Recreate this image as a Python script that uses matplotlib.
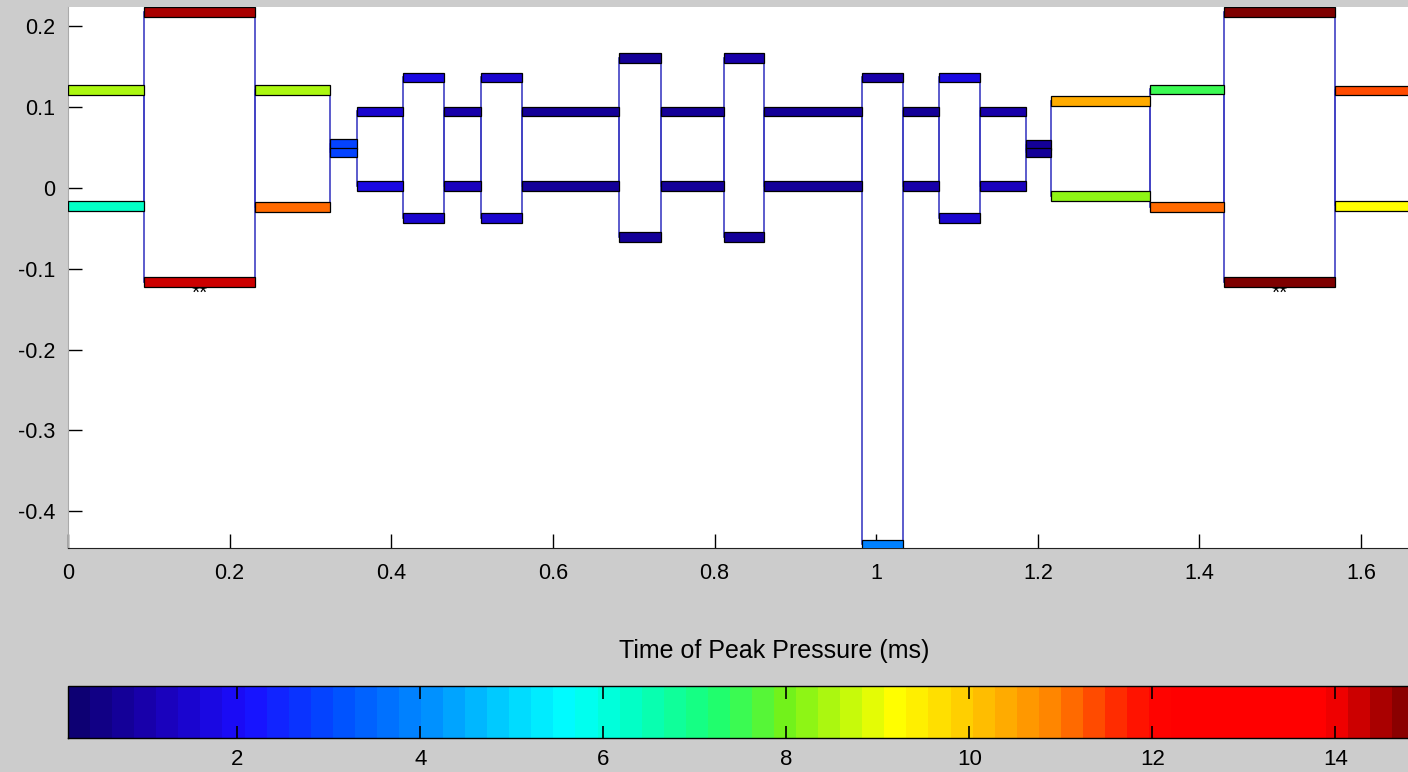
import numpy as np
import matplotlib.pyplot as plt
from matplotlib.colors import LinearSegmentedColormap, Normalize
from matplotlib.patches import Rectangle
from matplotlib.cm import ScalarMappable

plt.rcParams['font.family'] = ['Liberation Sans', 'DejaVu Sans']
plt.rcParams['axes.unicode_minus'] = False

# segment boundaries along the time axis (ms)
time_edges = [0.0, 0.0946, 0.2319, 0.3247, 0.3581, 0.4150, 0.4657, 0.5114,
              0.5621, 0.6821, 0.7341, 0.8120, 0.8615, 0.9827, 1.0334, 1.0779,
              1.1286, 1.1855, 1.2164, 1.3389, 1.4304, 1.5677, 1.662]
# upper and lower level of each segment
top_y = [0.1213, 0.2178, 0.1213, 0.0545, 0.0947, 0.1368, 0.0947, 0.1368,
         0.0947, 0.1609, 0.0947, 0.1609, 0.0947, 0.1368, 0.0947, 0.1368,
         0.0947, 0.0532, 0.1077, 0.1219, 0.2178, 0.1207]
bot_y = [-0.0223, -0.1163, -0.0235, 0.0439, 0.0025, -0.0371, 0.0025, -0.0371,
         0.0025, -0.0606, 0.0025, -0.0606, 0.0025, -0.4410, 0.0025, -0.0371,
         0.0025, 0.0439, -0.0099, -0.0235, -0.1163, -0.0223]
# time of peak pressure (ms) on the upper and lower edges
top_val = [8.5, 14.4, 8.5, 2.9, 1.4, 1.6, 1.1, 1.5, 0.7, 0.8, 0.7, 1.0,
           0.7, 0.9, 0.8, 1.6, 1.0, 0.7, 10.3, 7.5, 14.9, 11.4]
bot_val = [6.4, 14.2, 11.0, 2.9, 1.8, 1.5, 1.3, 1.5, 0.7, 0.8, 0.7, 0.8,
           0.7, 4.0, 0.9, 1.5, 1.2, 0.7, 8.3, 11.0, 14.9, 9.3]
# segments flagged with **
marked = [1, 20]

y_ticks = [-0.4, -0.3, -0.2, -0.1, 0, 0.1, 0.2]
y_labels = ['-0.4', '-0.3', '-0.2', '-0.1', '0', '0.1', '0.2']
x_ticks = [0, 0.2, 0.4, 0.6, 0.8, 1.0, 1.2, 1.4, 1.6]
x_labels = ['0', '0.2', '0.4', '0.6', '0.8', '1', '1.2', '1.4', '1.6']
cbar_ticks = [2, 4, 6, 8, 10, 12, 14]

# colour scale as it appears on the colour bar
cmap_vals = [0.15, 1.0, 2.0, 3.0, 4.0, 5.0, 5.6, 6.2, 7.2, 8.0, 9.2, 10.0,
             11.0, 11.8, 12.2, 14.0, 14.8, 15.58]
cmap_colors = ['#0d0073', '#1a00b3', '#1a0dff', '#004dff', '#008cff', '#00d9ff',
               '#00ffff', '#00ffcc', '#1aff73', '#73f21a', '#ffff00', '#ffcc00',
               '#ff8000', '#ff1a00', '#ff0000', '#ff0000', '#8c0000', '#660000']

vmin, vmax = cmap_vals[0], cmap_vals[-1]
norm = Normalize(vmin, vmax)
pos = [(v - vmin) / (vmax - vmin) for v in cmap_vals]
cmap = LinearSegmentedColormap.from_list('peak', list(zip(pos, cmap_colors)), N=64)

W, H = 1408, 772
fig = plt.figure(figsize=(W / 100, H / 100), dpi=100, facecolor='#cccccc')

ax = fig.add_axes([68 / W, 1 - 548 / H, (W - 68) / W, (548 - 7) / H])
ax.set_facecolor('white')

bar_h = 0.0118
for i in range(len(top_y)):
    x0, x1 = time_edges[i], time_edges[i + 1]
    ax.add_patch(Rectangle((x0, bot_y[i]), x1 - x0, top_y[i] - bot_y[i],
                           fill=False, edgecolor='#4040c4', lw=1.2, zorder=2))
    for y, v in ((top_y[i], top_val[i]), (bot_y[i], bot_val[i])):
        ax.add_patch(Rectangle((x0, y - bar_h / 2), x1 - x0, bar_h,
                               facecolor=cmap(norm(v)), edgecolor='black',
                               lw=0.9, zorder=3))

# significance marks, partly tucked under the lower bar
for i in marked:
    xc = (time_edges[i] + time_edges[i + 1]) / 2
    ax.text(xc, bot_y[i] - bar_h / 2 + 0.004, '**', ha='center', va='top',
            fontsize=15, zorder=1)

ax.set_xlim(0, (W - 67.5) / 808.5)
ax.set_ylim(-0.4455, 0.2239)
ax.set_xticks(x_ticks)
ax.set_xticklabels(x_labels)
ax.set_yticks(y_ticks)
ax.set_yticklabels(y_labels)
ax.tick_params(direction='in', length=10, width=1, labelsize=15.5, pad=9)
ax.tick_params(axis='x', pad=11)
for s in ('top', 'right'):
    ax.spines[s].set_visible(False)
ax.spines['left'].set_color('#aaaaaa')
ax.spines['bottom'].set_color('#222222')

# colour bar, running past the right edge like the original
cax = fig.add_axes([68 / W, 1 - 738 / H, (1480 - 68) / W, (738 - 686) / H])
cb = fig.colorbar(ScalarMappable(norm=norm, cmap=cmap), cax=cax,
                  orientation='horizontal')
cb.set_ticks(cbar_ticks)
cax.tick_params(direction='in', length=9, width=1.2, top=True, bottom=True,
                labelsize=16, pad=8)
cb.outline.set_linewidth(1)
fig.text(774 / W, 1 - 651 / H, 'Time of Peak Pressure (ms)', ha='center',
         va='center', fontsize=18)

fig.savefig('out.png', dpi=100, facecolor=fig.get_facecolor())
